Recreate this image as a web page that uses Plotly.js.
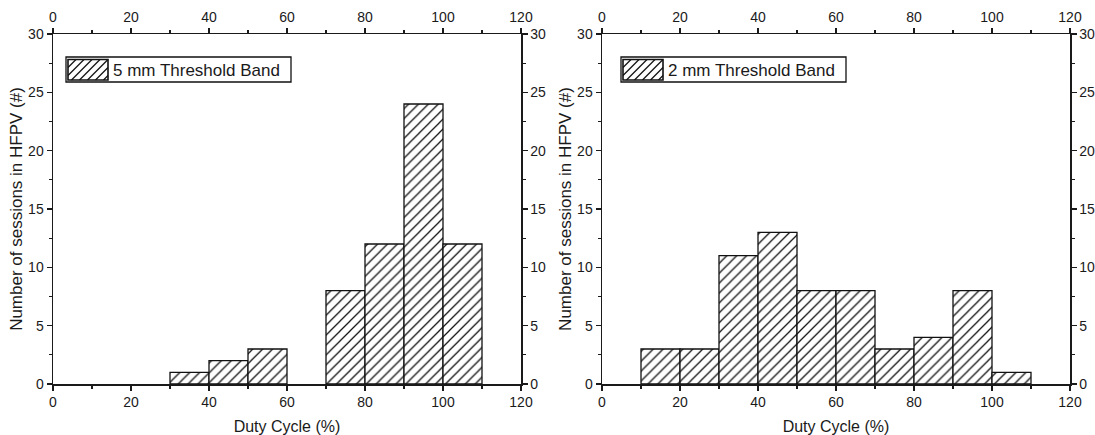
<!DOCTYPE html>
<html>
<head>
<meta charset="utf-8">
<script src="https://cdn.plot.ly/plotly-3.0.1.min.js"></script>
<style>html,body{margin:0;padding:0;background:#fff}#chart{width:1095px;height:435px}</style>
</head>
<body>
<div id="chart"></div>
<script>
// Bin starts (Duty Cycle %, bin width 10) and counts
const binStart5mm = [30, 40, 50, 70, 80, 90, 100];
const count5mm    = [1, 2, 3, 8, 12, 24, 12];
const binStart2mm = [10, 20, 30, 40, 50, 60, 70, 80, 90, 100];
const count2mm    = [3, 3, 11, 13, 8, 8, 3, 4, 8, 1];
const binWidth = 10;
const seriesNames = ["5 mm Threshold Band", "2 mm Threshold Band"];
const xTitle = "Duty Cycle (%)";
const yTitle = "Number of sessions in HFPV (#)";
const xTickVals = [0, 20, 40, 60, 80, 100, 120];
const yTickVals = [0, 5, 10, 15, 20, 25, 30];

const W = 1095, H = 435;
const FONT = "Liberation Sans, Arial, sans-serif";
const TXT = "#1a1a1a";

const pattern = {shape: "/", fgcolor: "#111", bgcolor: "white", size: 7, solidity: 0.18};

function barTrace(xs, ys, name, xa, ya) {
  return {
    type: "bar", x: xs, y: ys, width: xs.map(() => binWidth), offset: 0,
    name: name, xaxis: xa, yaxis: ya, showlegend: false,
    marker: {color: "white", pattern: pattern, line: {color: "#111", width: 1.3}},
    hoverinfo: "x+y"
  };
}
function dummy(xa, ya) {
  return {type: "scatter", x: [], y: [], xaxis: xa, yaxis: ya, showlegend: false, hoverinfo: "skip"};
}

const data = [
  barTrace(binStart5mm, count5mm, seriesNames[0], "x", "y"),
  dummy("x2", "y2"),
  barTrace(binStart2mm, count2mm, seriesNames[1], "x3", "y3"),
  dummy("x4", "y4")
];

const yDom = [(H - 384) / H, (H - 34) / H];
const leftDom = [53 / W, 521 / W];
const rightDom = [602 / W, 1070 / W];

function xAxis(dom, side, anchor, overlay, showTitle) {
  const a = {
    domain: dom, range: [0, 120], side: side, anchor: anchor,
    tickvals: xTickVals, ticks: "outside", ticklen: 5, tickwidth: 1.2, tickcolor: TXT,
    showline: true, linecolor: TXT, linewidth: 1.5, showgrid: false, zeroline: false,
    tickfont: {family: FONT, size: 14, color: TXT},
    minor: {dtick: 10, ticks: "outside", ticklen: 3, tickwidth: 1.2, tickcolor: TXT, showgrid: false},
    fixedrange: true, automargin: false
  };
  if (overlay) a.overlaying = overlay;
  if (showTitle) a.title = {text: xTitle, font: {family: FONT, size: 16, color: TXT}, standoff: 11};
  return a;
}
function yAxis(side, anchor, overlay, showTitle) {
  const a = {
    domain: yDom, range: [0, 30], side: side, anchor: anchor,
    tickvals: yTickVals, ticks: "outside", ticklen: 5, tickwidth: 1.2, tickcolor: TXT,
    showline: true, linecolor: TXT, linewidth: 1.5, showgrid: false, zeroline: false,
    tickfont: {family: FONT, size: 14, color: TXT},
    minor: {dtick: 2.5, ticks: "outside", ticklen: 3, tickwidth: 1.2, tickcolor: TXT, showgrid: false},
    fixedrange: true, automargin: false
  };
  if (overlay) a.overlaying = overlay;
  if (showTitle) a.title = {text: yTitle, font: {family: FONT, size: 17, color: TXT}, standoff: 1};
  return a;
}

// Hand-built legend boxes (pixel positions -> paper coords)
const px = x => x / W, py = y => 1 - y / H;
const shapes = [], annotations = [];
function legendBox(bx0, bx1, by0, by1, sx0, sx1, sy0, sy1, text) {
  shapes.push({type: "rect", xref: "paper", yref: "paper", x0: px(bx0), x1: px(bx1), y0: py(by1), y1: py(by0),
    line: {color: "#111", width: 1.3}, fillcolor: "white", layer: "above"});
  // hatch lines '/'
  const step = 8, h = sy1 - sy0;
  for (let c = sx0 - h; c < sx1; c += step) {
    const t0 = Math.max(0, sx0 - c), t1 = Math.min(sx1 - c, h);
    if (t1 <= t0) continue;
    shapes.push({type: "line", xref: "paper", yref: "paper",
      x0: px(c + t0), y0: py(sy1 - t0), x1: px(c + t1), y1: py(sy1 - t1),
      line: {color: "#111", width: 1.3}, layer: "above"});
  }
  shapes.push({type: "rect", xref: "paper", yref: "paper", x0: px(sx0), x1: px(sx1), y0: py(sy1), y1: py(sy0),
    line: {color: "#111", width: 1.6}, layer: "above"});
  annotations.push({xref: "paper", yref: "paper", x: px(sx1 + 3), y: py((sy0 + sy1) / 2 + 0.5),
    xanchor: "left", yanchor: "middle", showarrow: false, text: text,
    font: {family: FONT, size: 17, color: TXT}});
}
legendBox(66, 291, 57, 82, 68, 108, 59.5, 80, seriesNames[0]);
legendBox(621, 846, 57, 82, 623, 663, 59.5, 80, seriesNames[1]);

const layout = {
  width: W, height: H,
  margin: {l: 0, r: 0, t: 0, b: 0},
  paper_bgcolor: "white", plot_bgcolor: "white",
  font: {family: FONT, color: TXT},
  bargap: 0, showlegend: false,
  xaxis: xAxis(leftDom, "bottom", "y", null, true),
  xaxis2: xAxis(leftDom, "top", "y2", "x", false),
  yaxis: yAxis("left", "x", null, true),
  yaxis2: yAxis("right", "x2", "y", false),
  xaxis3: xAxis(rightDom, "bottom", "y3", null, true),
  xaxis4: xAxis(rightDom, "top", "y4", "x3", false),
  yaxis3: yAxis("left", "x3", null, true),
  yaxis4: yAxis("right", "x4", "y3", false),
  shapes: shapes, annotations: annotations
};

Plotly.newPlot("chart", data, layout, {displayModeBar: false, staticPlot: true});
</script>
</body>
</html>
